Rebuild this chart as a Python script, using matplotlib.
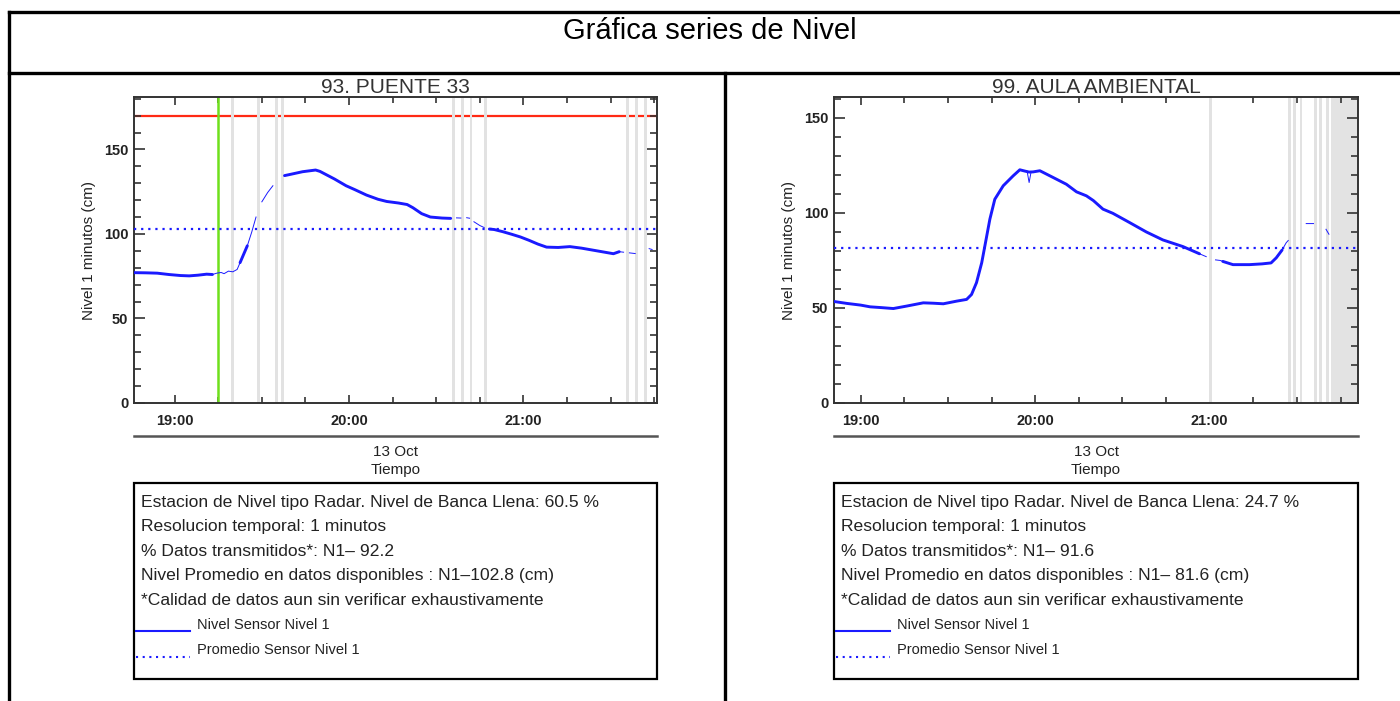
import datetime as dt

import numpy as np
import matplotlib
matplotlib.use("Agg")
import matplotlib.pyplot as plt
import matplotlib.dates as mdates
from matplotlib.lines import Line2D
from matplotlib.patches import Rectangle

plt.rcParams["font.family"] = ["Liberation Sans", "DejaVu Sans"]

W, H = 1400, 701
BASE = dt.datetime(2023, 10, 13, 19, 0)

# --- Station 93. PUENTE 33 (minutes after 19:00, level cm, 1 = dense data / 0 = sparse)
p33_min = [-14, -10, -6, -2, 2, 5, 8, 11, 13, 14.5, 16, 17, 18.5, 20, 21.5,
           22.5, 23.5, 25, 26.5, 28, 29, 30, 32, 33.8, 35,
           37.8, 40, 44, 48.5, 50, 52, 55, 59, 62, 66, 70, 73, 77, 80, 82, 85,
           88, 92, 95, 96, 97, 98.5, 99.5, 100.5, 101.5, 102, 103, 105, 106.5,
           107.5, 108.3, 110, 113, 116, 119, 122, 125, 128, 132, 136, 140, 144,
           148, 151, 153, 154.5, 155.5, 156.5, 158.5, 159.5, 163.3, 164.3]
p33_val = [77.1, 77.0, 76.8, 76.0, 75.4, 75.2, 75.6, 76.2, 76.0, 76.8, 77.2,
           76.5, 78.0, 77.6, 79.0,
           83.0, 87.0, 93.0, 101.0, 110.0, np.nan, 119.0, 124.5, 128.5, np.nan,
           134.5, 135.3, 136.8, 137.8, 137.0, 135.2, 132.5, 128.5, 126.2, 123.0,
           120.5, 119.2, 118.3, 117.4, 115.5, 112.0,
           110.0, 109.4, 109.2, np.nan, 109.5, 109.4, np.nan, 109.6, 109.3,
           np.nan, 107.2, 105.0, 103.8,
           np.nan, 102.9, 102.6, 101.3, 99.8, 98.2, 96.2, 94.0, 92.2, 92.0,
           92.5, 91.6, 90.4,
           89.2, 88.3, 89.5, 89.2, np.nan, 88.8, 88.4, np.nan, 91.3, 90.8]
p33_dense = [1, 1, 1, 1, 1, 1, 1, 1, 1, 0, 0, 0, 0, 0, 0,
             1, 1, 1, 0, 0, 0, 0, 0, 0, 0,
             1, 1, 1, 1, 1, 1, 1, 1, 1, 1, 1, 1, 1, 1, 1, 1,
             1, 1, 1, 0, 0, 0, 0, 0, 0, 0, 0, 0, 0,
             0, 1, 1, 1, 1, 1, 1, 1, 1, 1, 1, 1, 1,
             1, 1, 1, 0, 0, 0, 0, 0, 0, 0]
p33_mean = 102.8
p33_full_bank = 170
p33_event_min = 15
p33_gaps_min = [20, 29, 35, 37, 96, 99, 102, 107, 156, 159, 162]

# --- Station 99. AULA AMBIENTAL
aula_min = [-9.2, -4.8, 0, 3.2, 7, 11.2, 15.8, 21.5, 25, 28.4, 33, 36.4, 38.1,
            39.8, 41.6, 42.9, 44.4, 46.1, 49, 52.4, 54.7, 56.5, 57.9, 59.3,
            61.6, 66.1, 70.7, 74.2, 77.6, 80, 83.3, 86.7, 92.5, 98.2, 103.9,
            110.8, 116.5, 118.8, 120, 122, 123.6, 124.5, 128, 133.7, 138,
            141.1, 142.9, 144.9, 146.3, 147, 147.8, 153.2, 155.7, 156.5, 160,
            161]
aula_val = [53.4, 52.4, 51.5, 50.6, 50.2, 49.7, 51.0, 52.7, 52.5, 52.2, 53.6,
            54.5, 57.1, 63.3, 73.8, 84.4, 96.7, 107.2, 114.3, 119.5, 122.7,
            122.0, 121.5, 121.6, 122.2, 118.7, 115.1, 111.1, 109.0, 106.5,
            102.0, 99.8, 94.9, 90.0, 85.8, 82.3, 78.5, 77.0, np.nan, 75.3,
            75.0, 74.5, 72.8, 72.8, 73.2, 73.7, 76.4, 80.5, 84.3, 85.5,
            np.nan, 94.4, 94.4, np.nan, 91.4, 88.8]
aula_dense = [1, 1, 1, 1, 1, 1, 1, 1, 1, 1, 1, 1, 1, 1, 1, 1, 1, 1, 1, 1, 1,
              1, 1, 1, 1, 1, 1, 1, 1, 1, 1, 1, 1, 1, 1, 1, 1, 0, 0, 0, 0, 1,
              1, 1, 1, 1, 1, 1, 0, 0, 0, 0, 0, 0, 0, 0]
aula_spike_min = [57.2, 57.9, 58.6]
aula_spike_val = [122.0, 116.0, 121.8]
aula_mean = 81.6
aula_gaps_min = [120.4, 147.5, 149.2, 151.4, 156.3, 158, 160.6]
aula_nodata_from = 161.7

stations = [
    dict(title="93. PUENTE 33", t=p33_min, v=p33_val, dense=p33_dense,
         mean=p33_mean, gaps=p33_gaps_min, xlim=(-14, 166), ylim=(0, 181),
         bank=p33_full_bank, event=p33_event_min, spike=None, nodata=None,
         info=["Estacion de Nivel tipo Radar. Nivel de Banca Llena: 60.5 %",
               "Resolucion temporal: 1 minutos",
               "% Datos transmitidos*: N1\u2013 92.2",
               "Nivel Promedio en datos disponibles : N1\u2013102.8 (cm)",
               "*Calidad de datos aun sin verificar exhaustivamente"],
         x0=134, x1=657),
    dict(title="99. AULA AMBIENTAL", t=aula_min, v=aula_val, dense=aula_dense,
         mean=aula_mean, gaps=aula_gaps_min, xlim=(-9.2, 171), ylim=(0, 161),
         bank=None, event=None, spike=(aula_spike_min, aula_spike_val),
         nodata=aula_nodata_from,
         info=["Estacion de Nivel tipo Radar. Nivel de Banca Llena: 24.7 %",
               "Resolucion temporal: 1 minutos",
               "% Datos transmitidos*: N1\u2013 91.6",
               "Nivel Promedio en datos disponibles : N1\u2013 81.6 (cm)",
               "*Calidad de datos aun sin verificar exhaustivamente"],
         x0=834, x1=1358),
]

BLUE = "#1a1aff"
GREY_GAP = "#e2e2e2"
TXT = "#222222"


def when(m):
    return BASE + dt.timedelta(minutes=float(m))


def fx(x):
    return x / W


def fy(y):
    return 1 - y / H


fig = plt.figure(figsize=(W / 100, H / 100), dpi=100)

# table frame
for (xa, ya, xb, yb) in [(9, 12, 1400, 12), (9, 73, 1400, 73),
                         (9, 12, 9, 701), (725, 73, 725, 701)]:
    fig.add_artist(Line2D([fx(xa), fx(xb)], [fy(ya), fy(yb)], color="black",
                          lw=2.4, transform=fig.transFigure))
fig.text(fx(710), fy(31), "Gráfica series de Nivel", ha="center", va="center",
         fontsize=21, color="black")

for st in stations:
    ax = fig.add_axes([fx(st["x0"]), fy(403), fx(st["x1"] - st["x0"]), 306 / H])
    t = np.array([when(m) for m in st["t"]])
    v = np.array(st["v"], dtype=float)
    dense = np.array(st["dense"]) == 1

    if st["bank"] is not None:
        ax.axhline(st["bank"], color="#ff2a14", lw=1.6, zorder=1)
    if st["nodata"] is not None:
        ax.axvspan(when(st["nodata"]), when(st["xlim"][1] + 2), color="#e3e3e3",
                   lw=0, zorder=1.5)
    for g in st["gaps"]:
        ax.axvspan(when(g - 0.5), when(g + 0.5), color=GREY_GAP, lw=0, zorder=2)
    if st["event"] is not None:
        ax.axvline(when(st["event"]), color="#6fe01c", lw=1.8, zorder=2.5)

    ax.axhline(st["mean"], color=BLUE, lw=1.6, linestyle=(0, (1, 2.2)), zorder=3)
    ax.plot(t, v, color=BLUE, lw=0.7, zorder=4)
    ax.plot(t, np.where(dense, v, np.nan), color=BLUE, lw=2.1, zorder=5,
            solid_capstyle="round")
    if st["spike"] is not None:
        ax.plot([when(m) for m in st["spike"][0]], st["spike"][1], color=BLUE,
                lw=0.7, zorder=5)

    ax.set_xlim(when(st["xlim"][0]), when(st["xlim"][1]))
    ax.set_ylim(*st["ylim"])
    ax.xaxis.set_major_locator(mdates.HourLocator())
    ax.xaxis.set_minor_locator(mdates.MinuteLocator(byminute=[15, 30, 45]))
    ax.xaxis.set_major_formatter(mdates.DateFormatter("%H:%M"))
    ax.yaxis.set_major_locator(plt.MultipleLocator(50))
    ax.yaxis.set_minor_locator(plt.MultipleLocator(10))
    ax.tick_params(which="both", direction="in", top=True, right=True,
                   colors="#333333", labelcolor=TXT, labelsize=10.5, width=1.2)
    ax.tick_params(axis="x", which="major", length=6, pad=8)
    ax.tick_params(axis="x", which="minor", length=4)
    ax.tick_params(axis="y", which="major", length=8, pad=4)
    ax.tick_params(axis="y", which="minor", length=5)
    for lbl in ax.get_xticklabels() + ax.get_yticklabels():
        lbl.set_fontweight("bold")
    for s in ax.spines.values():
        s.set_color("#333333")
        s.set_linewidth(1.4)
    ax.set_ylabel("Nivel 1 minutos (cm)", fontsize=11, color=TXT, labelpad=6)
    ax.set_title(st["title"], fontsize=15, color="#333333", pad=1)

    xc = (st["x0"] + st["x1"]) / 2
    fig.add_artist(Line2D([fx(st["x0"]), fx(st["x1"])], [fy(436), fy(436)],
                          color="#555555", lw=1.8, transform=fig.transFigure))
    fig.text(fx(xc), fy(452), "13 Oct", ha="center", va="center", fontsize=11,
             color=TXT)
    fig.text(fx(xc), fy(470), "Tiempo", ha="center", va="center", fontsize=11,
             color=TXT)

    # info box
    fig.add_artist(Rectangle((fx(st["x0"]), fy(679)), fx(st["x1"] - st["x0"]),
                             196 / H, fill=False, edgecolor="black", lw=1.6,
                             transform=fig.transFigure))
    for i, line in enumerate(st["info"]):
        fig.text(fx(st["x0"] + 7), fy(502 + i * 24.6), line, ha="left",
                 va="center", fontsize=12.6, color=TXT)
    fig.add_artist(Line2D([fx(st["x0"] + 2), fx(st["x0"] + 56)], [fy(631), fy(631)],
                          color=BLUE, lw=1.5, transform=fig.transFigure))
    fig.add_artist(Line2D([fx(st["x0"] + 2), fx(st["x0"] + 56)], [fy(657), fy(657)],
                          color=BLUE, lw=1.5, linestyle=(0, (1, 2.2)),
                          transform=fig.transFigure))
    fig.text(fx(st["x0"] + 63), fy(625), "Nivel Sensor Nivel 1", ha="left",
             va="center", fontsize=10.5, color=TXT)
    fig.text(fx(st["x0"] + 63), fy(650), "Promedio Sensor Nivel 1", ha="left",
             va="center", fontsize=10.5, color=TXT)

fig.savefig("out.png", dpi=100)
